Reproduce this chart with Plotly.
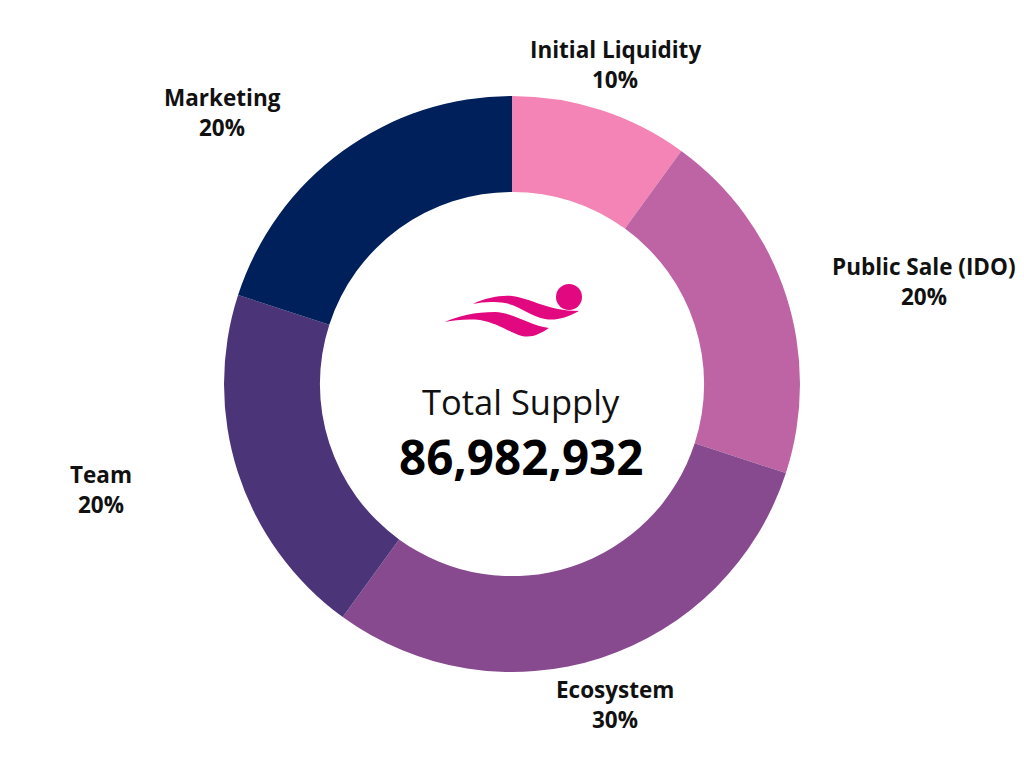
import plotly.graph_objects as go

# ---- data ----
labels = ["Initial Liquidity", "Public Sale (IDO)", "Ecosystem", "Team", "Marketing"]
values = [10, 20, 30, 20, 20]
colors = ["#F484B6", "#BE64A4", "#874A8F", "#4B3478", "#00205B"]
center_title = "Total Supply"
total_supply = 86982932

W, H = 1024, 768

# label anchor positions in pixels (centre of name line)
label_pos = {
    "Initial Liquidity": (615, 50),
    "Public Sale (IDO)": (924, 266),
    "Ecosystem": (615, 689),
    "Team": (101, 474),
    "Marketing": (222, 98),
}
LINE_GAP = 30

def px(x):
    return x / W

def py(y):
    return 1 - y / H

fig = go.Figure()
cx, cy, R = 512, 384, 288
fig.add_trace(go.Pie(
    labels=labels,
    values=values,
    marker=dict(colors=colors, line=dict(width=0)),
    hole=0.667,
    sort=False,
    direction="clockwise",
    rotation=0,
    textinfo="none",
    hoverinfo="skip",
    showlegend=False,
    domain=dict(x=[px(cx - R), px(cx + R)], y=[py(cy + R), py(cy - R)]),
))

total = sum(values)
annotations = []
for lab, val in zip(labels, values):
    x, y = label_pos[lab]
    pct = f"{round(val / total * 100)}%"
    for i, t in enumerate([lab, pct]):
        annotations.append(dict(
            x=px(x), y=py(y + i * LINE_GAP), xref="paper", yref="paper",
            text=t, showarrow=False, xanchor="center", yanchor="middle",
            font=dict(family="Open Sans", size=22.5, color="#111111", weight="bold"),
        ))

annotations.append(dict(
    x=px(521), y=py(425.5), xref="paper", yref="paper", text=center_title,
    showarrow=False, xanchor="center", yanchor="bottom", borderpad=0,
    font=dict(family="Open Sans", size=34.5, color="#111111"),
))
annotations.append(dict(
    x=px(521), y=py(422.5), xref="paper", yref="paper", text=f"{total_supply:,}",
    showarrow=False, xanchor="center", yanchor="top", borderpad=0,
    font=dict(family="Open Sans", size=47.5, color="#000000", weight="bold"),
))

# logo (decorative) drawn in pixel space, converted to paper
def path(cmds):
    out = []
    for c in cmds:
        if isinstance(c, str):
            out.append(c)
        else:
            out.append(f"{px(c[0]):.5f},{py(c[1]):.5f}")
    return " ".join(out)

logo_color = "#E2087F"
wave1 = ["M", (473, 304), "C", (485, 298), (500, 295), (512, 296),
         "C", (530, 298), (548, 311), (579, 311),
         "C", (566, 318), (555, 321), (545, 319),
         "C", (530, 316), (520, 306), (505, 303),
         "C", (492, 301), (482, 302), (473, 304), "Z"]
wave2 = ["M", (445, 322), "C", (458, 316), (475, 312), (495, 312),
         "C", (515, 313), (530, 326), (549, 328),
         "C", (540, 334), (532, 338), (522, 336),
         "C", (510, 333), (498, 323), (480, 320),
         "C", (467, 319), (455, 320), (445, 322), "Z"]
shapes = [
    dict(type="path", xref="paper", yref="paper", path=path(wave1),
         fillcolor=logo_color, line=dict(width=0)),
    dict(type="path", xref="paper", yref="paper", path=path(wave2),
         fillcolor=logo_color, line=dict(width=0)),
    dict(type="circle", xref="paper", yref="paper",
         x0=px(556), x1=px(582), y0=py(310), y1=py(284),
         fillcolor=logo_color, line=dict(width=0)),
]

fig.update_layout(
    width=W, height=H,
    margin=dict(l=0, r=0, t=0, b=0),
    paper_bgcolor="white", plot_bgcolor="white",
    annotations=annotations, shapes=shapes,
)

fig.write_html("out.html")
